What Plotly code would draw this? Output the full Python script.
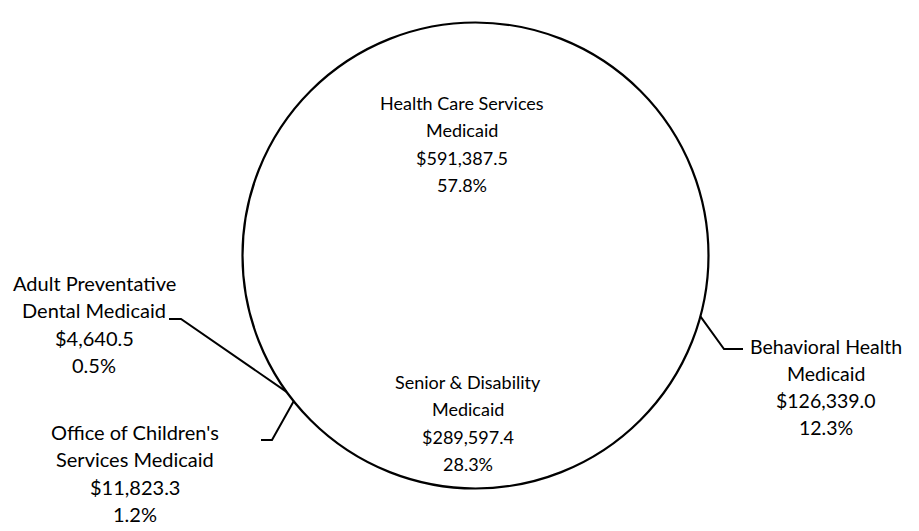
import math
import plotly.graph_objects as go

# ---- data ----
categories = [
    "Health Care Services<br>Medicaid",
    "Behavioral Health<br>Medicaid",
    "Senior & Disability<br>Medicaid",
    "Office of Children's<br>Services Medicaid",
    "Adult Preventative<br>Dental Medicaid",
]
values = [591387.5, 126339.0, 289597.4, 11823.3, 4640.5]

# ---- layout constants ----
W, H = 919, 531
CX, CY, R = 467.5, 247.5, 233.0
ROTATION = 235.0
FONT = "Lato, 'Open Sans', sans-serif"
FS_IN, FS_OUT, FS_RIGHT = 18, 20, 19.5
LINE_H = 27.3

# label line-centres (px) for each category: (x centre, y of first line, font size)
label_pos = [
    (454, 95, FS_IN),
    (818, 338, FS_RIGHT),
    (460, 374, FS_IN),
    (127, 424, FS_OUT),
    (86, 275, FS_OUT),
]
# leader: index -> label-side points (px), ending at slice edge
leader_pts = {
    1: [(735, 341), (716, 341)],
    3: [(253, 432), (264, 432)],
    4: [(161, 311), (173, 311)],
}

total = sum(values)

def px(x):
    return x / W

def py(y):
    return 1 - y / H

dom_x = [px(CX - R), px(CX + R)]
dom_y = [py(CY + R), py(CY - R)]

fig = go.Figure()
fig.add_trace(go.Pie(
    labels=[c.replace("<br>", " ") for c in categories],
    values=values,
    sort=False,
    direction="clockwise",
    rotation=ROTATION,
    textinfo="none",
    hoverinfo="label+value+percent",
    marker=dict(colors=["white"] * len(values), line=dict(width=0)),
    domain=dict(x=dom_x, y=dom_y),
    showlegend=False,
))
# outline circle (whole total as single slice)
fig.add_trace(go.Pie(
    labels=["Total"],
    values=[total],
    sort=False,
    textinfo="none",
    hoverinfo="skip",
    marker=dict(colors=["rgba(0,0,0,0)"], line=dict(color="black", width=2.2)),
    domain=dict(x=dom_x, y=dom_y),
    showlegend=False,
))

annotations = []
shapes = []
cum = 0.0
for i, (cat, v) in enumerate(zip(categories, values)):
    lines = cat.split("<br>") + [f"${v:,.1f}", f"{v / total * 100:.1f}%"]
    lx, ly, fs = label_pos[i]
    for k, t in enumerate(lines):
        annotations.append(dict(
            x=px(lx), y=py(ly + k * LINE_H), xref="paper", yref="paper",
            text=t, showarrow=False, xanchor="center", yanchor="middle",
            font=dict(family=FONT, size=fs, color="#000"),
        ))
    mid = ROTATION + (cum + v / 2) / total * 360
    cum += v
    if i in leader_pts:
        a = math.radians(mid)
        ex = CX + R * math.sin(a)
        ey = CY - R * math.cos(a)
        pts = leader_pts[i] + [(ex, ey)]
        path = "M " + " L ".join(f"{px(x):.5f},{py(y):.5f}" for x, y in pts)
        shapes.append(dict(type="path", xref="paper", yref="paper", path=path,
                           line=dict(color="black", width=2)))

fig.update_layout(
    width=W, height=H,
    margin=dict(l=0, r=0, t=0, b=0),
    paper_bgcolor="white", plot_bgcolor="white",
    annotations=annotations, shapes=shapes,
    showlegend=False,
)

fig.write_html("out.html")
